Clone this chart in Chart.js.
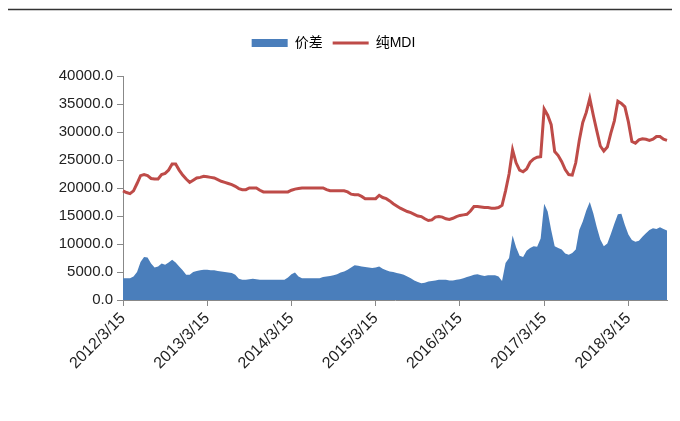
<!doctype html>
<html lang="zh">
  <head>
    <meta charset="utf-8">
    <title>价差与纯MDI</title>
    <style>
      html, body { margin: 0; padding: 0; background: #fff; }
      #wrap { width: 680px; height: 421px; position: relative; }
    </style>
  </head>
  <body>
    <div id="wrap"><canvas id="myChart"></canvas></div>

    <script src="https://cdn.jsdelivr.net/npm/chart.js@4.4.1/dist/chart.umd.min.js"></script>
    <script>
        // half-monthly points, 2012/3/15 .. 2018/9/1
        var pointCount = 156
        var dates = []
        for (var i = 0; i < pointCount; i++) {
            var m = (i % 2 == 0) ? 3 + i / 2 : 3 + (i + 1) / 2
            var y = 2012 + Math.floor((m - 1) / 12)
            var mm = ((m - 1) % 12) + 1
            dates.push(y + '/' + mm + '/' + (i % 2 == 0 ? 15 : 1))
        }

        var tickLabels = ['2012/3/15', '2013/3/15', '2014/3/15', '2015/3/15',
                          '2016/3/15', '2017/3/15', '2018/3/15']

        var spread = [
            3900, 3900, 3900, 4200, 5000, 6800, 7700, 7600, 6500, 5800,
            6000, 6500, 6300, 6700, 7200, 6700, 6000, 5300, 4500, 4500,
            5000, 5200, 5300, 5400, 5400, 5300, 5300, 5200, 5100, 5000,
            4900, 4800, 4500, 3800, 3600, 3600, 3700, 3800, 3700, 3600,
            3600, 3600, 3600, 3600, 3600, 3600, 3600, 4000, 4600, 4900,
            4200, 3900, 3900, 3900, 3900, 3900, 3900, 4100, 4200, 4300,
            4400, 4600, 4900, 5100, 5400, 5800, 6200, 6100, 6000, 5900,
            5800, 5700, 5800, 6000, 5600, 5300, 5100, 5000, 4800, 4700,
            4500, 4200, 3900, 3500, 3200, 3000, 3100, 3300, 3400, 3500,
            3600, 3600, 3600, 3500, 3500, 3600, 3700, 3900, 4100, 4300,
            4500, 4600, 4400, 4300, 4400, 4400, 4400, 4200, 3400, 6600,
            7500, 11500, 9400, 7900, 7700, 8800, 9300, 9600, 9500, 11000,
            17200, 15800, 12500, 9600, 9300, 9000, 8300, 8100, 8400, 9000,
            12500, 14000, 16000, 17500, 15500, 13000, 10800, 9600, 10100, 11800,
            13600, 15300, 15400, 13400, 11700, 10700, 10400, 10600, 11300, 11900,
            12500, 12800, 12700, 13000, 12700, 12400
        ]

        var pureMdi = [
            19500, 19200, 19000, 19500, 20800, 22200, 22400, 22200, 21700, 21600,
            21600, 22400, 22600, 23200, 24300, 24300, 23200, 22300, 21600, 21000,
            21400, 21800, 21900, 22100, 22000, 21900, 21800, 21500, 21200, 21000,
            20800, 20600, 20300, 19900, 19700, 19700, 20000, 20000, 20000, 19600,
            19300, 19300, 19300, 19300, 19300, 19300, 19300, 19300, 19600, 19800,
            19900, 20000, 20000, 20000, 20000, 20000, 20000, 20000, 19700, 19500,
            19500, 19500, 19500, 19500, 19300, 18900, 18800, 18800, 18500, 18100,
            18100, 18100, 18100, 18700, 18300, 18100, 17700, 17200, 16800, 16400,
            16100, 15800, 15600, 15300, 15000, 14900, 14500, 14200, 14300, 14800,
            14900, 14800, 14500, 14400, 14600, 14900, 15100, 15200, 15300, 15900,
            16700, 16700, 16600, 16500, 16500, 16400, 16400, 16500, 16900, 19500,
            22500, 26800, 24500, 23200, 22900, 23400, 24600, 25200, 25500, 25600,
            34100, 33000, 31300, 26500, 25800, 24700, 23300, 22400, 22300, 24500,
            28500, 31700, 33500, 36000, 33000, 30200, 27500, 26600, 27300, 29800,
            32000, 35500, 35100, 34500, 31800, 28300, 28000, 28600, 28800, 28700,
            28500, 28700, 29200, 29200, 28700, 28500
        ]

        var blue = '#4A7EBB'
        var red = '#BE4B48'
        var font = "'Liberation Sans', Arial, 'Noto Sans CJK SC', sans-serif"

        // the thin rule across the top of the page
        var topRule = {
            id: 'topRule',
            beforeDraw: function(chart) {
                var c = chart.ctx
                c.save()
                c.strokeStyle = '#333'
                c.lineWidth = 1.5
                c.beginPath()
                c.moveTo(8, 9.5)
                c.lineTo(672, 9.5)
                c.stroke()
                c.restore()
            }
        }

        // extra room between the legend and the plot
        var legendGap = {
            id: 'legendGap',
            beforeInit: function(chart) {
                if (!chart.legend) return
                var fit = chart.legend.fit
                chart.legend.fit = function() {
                    fit.call(this)
                    this.height += 16
                }
            }
        }

        var ctx = document.getElementById('myChart').getContext('2d')
        var chart = new Chart(ctx, {
            type: 'line',
            data: {
                labels: dates,
                datasets: [{
                    label: '价差',
                    data: spread,
                    backgroundColor: blue,
                    borderColor: blue,
                    borderWidth: 0,
                    fill: 'origin',
                    pointRadius: 0,
                    tension: 0
                },
                {
                    label: '纯MDI',
                    data: pureMdi,
                    backgroundColor: red,
                    borderColor: red,
                    borderWidth: 3,
                    fill: false,
                    pointRadius: 0,
                    tension: 0
                }]
            },
            options: {
                responsive: true,
                maintainAspectRatio: false,
                animation: false,
                devicePixelRatio: 1,
                layout: { padding: { top: 26, right: 13, left: 0, bottom: 0 } },
                plugins: {
                    tooltip: { enabled: false },
                    legend: {
                        position: 'top',
                        align: 'center',
                        labels: {
                            usePointStyle: true,
                            pointStyleWidth: 36,
                            boxHeight: 8,
                            padding: 10,
                            color: '#333',
                            font: { family: font, size: 14 },
                            generateLabels: function(chart) {
                                return chart.data.datasets.map(function(ds, i) {
                                    return {
                                        text: ds.label,
                                        fillStyle: ds.backgroundColor,
                                        strokeStyle: ds.borderColor,
                                        lineWidth: i == 0 ? 0 : 3,
                                        pointStyle: i == 0 ? 'rect' : 'line',
                                        hidden: false,
                                        datasetIndex: i
                                    }
                                })
                            }
                        }
                    }
                },
                scales: {
                    x: {
                        type: 'category',
                        offset: false,
                        afterBuildTicks: function(scale) {
                            scale.ticks = scale.ticks.filter(function(t) {
                                return tickLabels.indexOf(dates[t.value]) >= 0
                            })
                        },
                        afterFit: function(scale) { scale.height = 121 },
                        grid: { drawOnChartArea: false, drawTicks: true, tickLength: 6, color: '#888' },
                        border: { display: true, color: '#888', width: 1 },
                        ticks: {
                            autoSkip: false,
                            minRotation: 45,
                            maxRotation: 45,
                            color: '#222',
                            font: { family: font, size: 16 }
                        }
                    },
                    y: {
                        min: 0,
                        max: 40000,
                        afterFit: function(scale) { scale.width = 123 },
                        grid: { drawOnChartArea: false, drawTicks: true, tickLength: 6, color: '#888' },
                        border: { display: true, color: '#888', width: 1 },
                        ticks: {
                            stepSize: 5000,
                            padding: 4,
                            color: '#222',
                            font: { family: font, size: 15 },
                            callback: function(v) { return v.toFixed(1) }
                        }
                    }
                }
            },
            plugins: [topRule, legendGap]
        });
    </script>
  </body>
</html>
